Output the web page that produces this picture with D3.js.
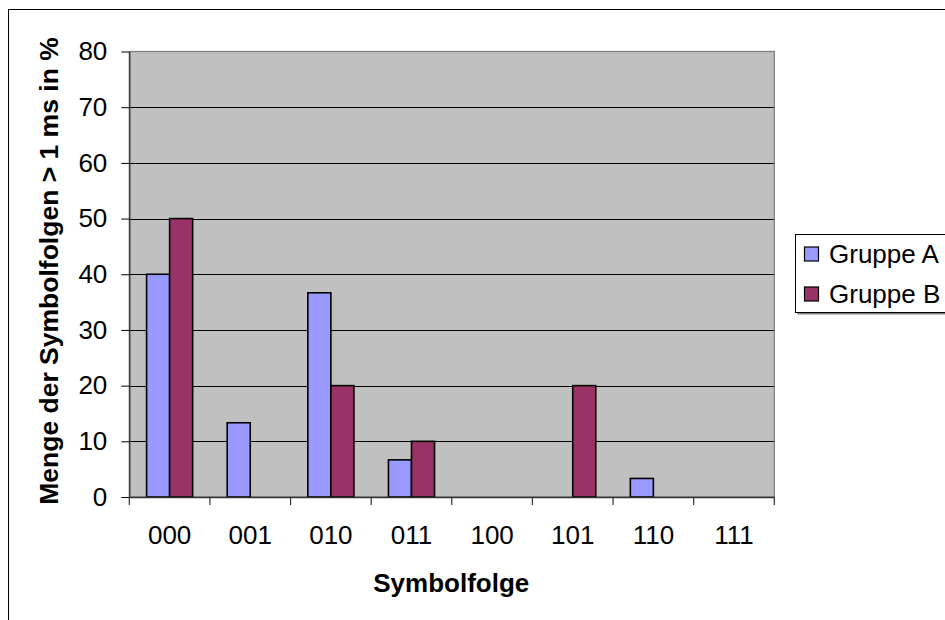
<!DOCTYPE html>
<html>
<head>
<meta charset="utf-8">
<script src="https://cdn.jsdelivr.net/npm/d3@7"></script>
<style>
  html, body { margin: 0; padding: 0; background: #fff; }
  svg { display: block; font-family: "Liberation Sans", Arial, sans-serif; }
</style>
</head>
<body>
<svg id="chart" width="945" height="620"></svg>
<script>
const categories = ["000", "001", "010", "011", "100", "101", "110", "111"];
const seriesNames = ["Gruppe A", "Gruppe B"];
const gruppeA = [40, 13.33, 36.67, 6.67, 0, 0, 3.33, 0];
const gruppeB = [50, 0, 20, 10, 0, 20, 0, 0];
const seriesColors = ["#9999FF", "#993366"];
const yTicks = [0, 10, 20, 30, 40, 50, 60, 70, 80];
const yTitle = "Menge der Symbolfolgen > 1 ms in %";
const xTitle = "Symbolfolge";

const seriesValues = [gruppeA, gruppeB];
const svg = d3.select("#chart");

const plot = { left: 129.3, right: 774.3, top: 51.5, bottom: 497 };
const fontSize = 26;

// outer chart border (extends beyond the viewport on right/bottom)
svg.append("rect")
  .attr("x", 8.5).attr("y", 9.5)
  .attr("width", 1000).attr("height", 1000)
  .attr("fill", "#fff").attr("stroke", "#000").attr("stroke-width", 1);

const x = d3.scaleBand().domain(categories).range([plot.left, plot.right]).paddingInner(0).paddingOuter(0);
const xs = d3.scaleBand().domain(seriesNames).range([0, x.bandwidth()]).paddingInner(0).paddingOuter(0.75);
const y = d3.scaleLinear().domain([0, 80]).range([plot.bottom, plot.top]);

// plot background
svg.append("rect")
  .attr("x", plot.left).attr("y", plot.top)
  .attr("width", plot.right - plot.left).attr("height", plot.bottom - plot.top)
  .attr("fill", "#C0C0C0");

// gridlines
svg.append("g").selectAll("line")
  .data(yTicks.filter(t => t > 0 && t < 80))
  .join("line")
  .attr("x1", plot.left).attr("x2", plot.right)
  .attr("y1", d => Math.round(y(d)) + 0.5).attr("y2", d => Math.round(y(d)) + 0.5)
  .attr("stroke", "#000").attr("stroke-width", 1);

// plot border
svg.append("rect")
  .attr("x", plot.left).attr("y", plot.top)
  .attr("width", plot.right - plot.left).attr("height", plot.bottom - plot.top)
  .attr("fill", "none").attr("stroke", "#808080").attr("stroke-width", 1.3);

// bars
const data = [];
categories.forEach((c, i) => {
  seriesNames.forEach((s, j) => {
    data.push({ cat: c, series: s, value: seriesValues[j][i], color: seriesColors[j] });
  });
});
svg.append("g").selectAll("rect")
  .data(data.filter(d => d.value > 0))
  .join("rect")
  .attr("x", d => x(d.cat) + xs(d.series))
  .attr("y", d => y(d.value))
  .attr("width", xs.bandwidth())
  .attr("height", d => y(0) - y(d.value))
  .attr("fill", d => d.color)
  .attr("stroke", "#000").attr("stroke-width", 1.6);

// y axis
const yAxis = d3.axisLeft(y).tickValues(yTicks).tickSize(8).tickPadding(14).tickSizeOuter(0);
const gy = svg.append("g").attr("transform", `translate(${plot.left},0)`).call(yAxis);
gy.select(".domain").attr("stroke", "#333").attr("stroke-width", 1.3);
gy.selectAll(".tick line").attr("stroke", "#000");
gy.selectAll(".tick text").attr("font-size", fontSize).attr("fill", "#000")
  .attr("font-family", "Liberation Sans, Arial, sans-serif");

// x axis: ticks at band boundaries
const xAxis = d3.axisBottom(x).tickSize(0).tickPadding(29).tickSizeOuter(0);
const gx = svg.append("g").attr("transform", `translate(0,${plot.bottom})`).call(xAxis);
gx.select(".domain").attr("stroke", "#333").attr("stroke-width", 1.3);
gx.selectAll(".tick text").attr("font-size", fontSize).attr("fill", "#000")
  .attr("font-family", "Liberation Sans, Arial, sans-serif");
const boundaries = categories.map(c => x(c)).concat([x(categories[categories.length - 1]) + x.bandwidth()]);
svg.append("g").selectAll("line")
  .data(boundaries)
  .join("line")
  .attr("x1", d => d).attr("x2", d => d)
  .attr("y1", plot.bottom).attr("y2", plot.bottom + 8)
  .attr("stroke", "#333").attr("stroke-width", 1.2);

// axis titles
svg.append("text")
  .attr("x", (plot.left + plot.right) / 2 - 0.5)
  .attr("y", 592)
  .attr("text-anchor", "middle")
  .attr("font-size", fontSize).attr("font-weight", "bold")
  .text(xTitle);

svg.append("text")
  .attr("transform", `translate(58,271) rotate(-90)`)
  .attr("text-anchor", "middle")
  .attr("font-size", fontSize + 0.5).attr("font-weight", "bold")
  .text(yTitle);

// legend
const lg = svg.append("g");
lg.append("rect").attr("x", 797.5).attr("y", 236.5).attr("width", 200).attr("height", 78)
  .attr("fill", "#808080");
lg.append("rect").attr("x", 795.5).attr("y", 234.5).attr("width", 200).attr("height", 78)
  .attr("fill", "#fff").attr("stroke", "#000").attr("stroke-width", 1);
const legendRows = [254, 294];
seriesNames.forEach((s, j) => {
  lg.append("rect")
    .attr("x", 804.5).attr("y", legendRows[j] - 7)
    .attr("width", 14).attr("height", 14)
    .attr("fill", seriesColors[j]).attr("stroke", "#000").attr("stroke-width", 1.2);
  lg.append("text")
    .attr("x", 829).attr("y", legendRows[j])
    .attr("dy", "0.36em")
    .attr("font-size", fontSize)
    .text(s);
});
</script>
</body>
</html>
